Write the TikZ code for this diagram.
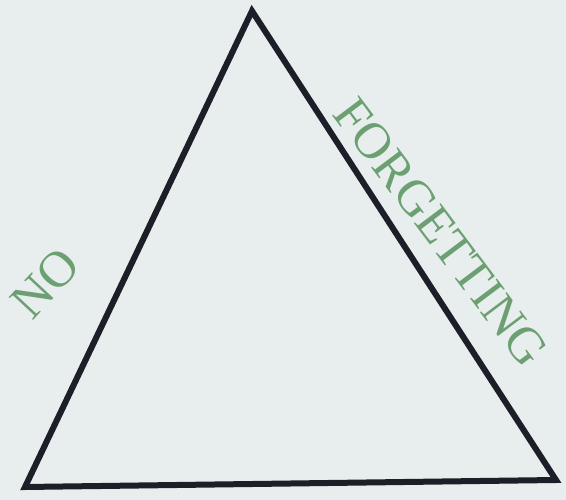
\documentclass[tikz,border=0pt]{standalone}
\usepackage{fontspec}
\setmainfont{Liberation Serif}
\definecolor{bg}{RGB}{232,238,238}
\definecolor{edge}{RGB}{28,30,40}
\definecolor{lbl}{RGB}{108,160,114}
\begin{document}
\begin{tikzpicture}[x=1pt,y=-1pt,
  edgeline/.style={draw=edge,line width=6pt,line join=miter},
  word/.style={text=lbl,inner sep=0pt,font=\fontsize{51}{51}\selectfont}]
\fill[bg] (0,0) rectangle (566,500);
\useasboundingbox (0,0) rectangle (566,500);
\coordinate (top) at (252,11);
\coordinate (bl) at (25,487);
\coordinate (br) at (556,480);
\draw[edgeline] (top) -- (bl) -- (br) -- cycle;
\node[word,rotate=47] (no) at (45,283) {NO};
\node[word,rotate=-53] (forgetting) at (441,232) {FORGETTING};
\end{tikzpicture}
\end{document}
